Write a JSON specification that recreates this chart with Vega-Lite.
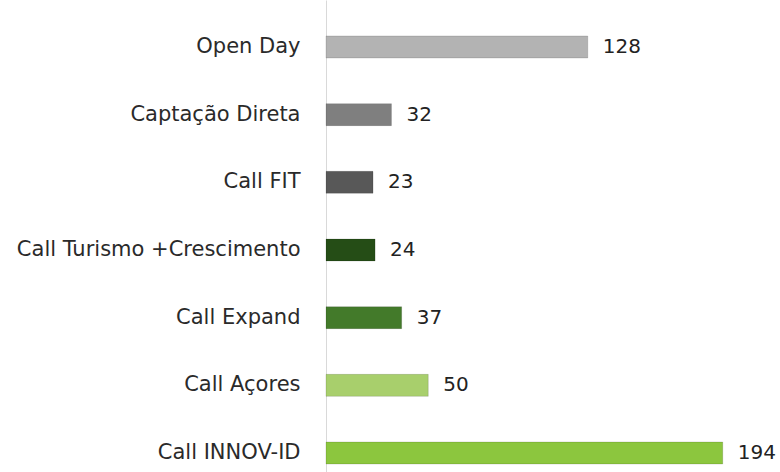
{
  "$schema": "https://vega.github.io/schema/vega-lite/v6.json",
  "autosize": "none",
  "padding": {"left": 326, "top": 0, "right": 0, "bottom": 0},
  "width": 454,
  "height": 472,
  "background": "white",
  "config": {"view": {"stroke": null}},
  "data": {
    "values": [
      {"categoria": "Open Day", "valor": 128, "cor": "#b3b3b3"},
      {"categoria": "Captação Direta", "valor": 32, "cor": "#7f7f7f"},
      {"categoria": "Call FIT", "valor": 23, "cor": "#585858"},
      {"categoria": "Call Turismo +Crescimento", "valor": 24, "cor": "#254d16"},
      {"categoria": "Call Expand", "valor": 37, "cor": "#437a2a"},
      {"categoria": "Call Açores", "valor": 50, "cor": "#a8cf6c"},
      {"categoria": "Call INNOV-ID", "valor": 194, "cor": "#8cc63e"}
    ]
  },
  "encoding": {
    "y": {
      "field": "categoria",
      "type": "nominal",
      "sort": null,
      "scale": {"paddingInner": 0.675, "paddingOuter": 0.325, "align": 0.818},
      "axis": {
        "title": null,
        "ticks": false,
        "labelPadding": 26,
        "labelFont": "DejaVu Sans",
        "labelFontSize": 21,
        "labelColor": "#2a2a2a",
        "labelLimit": 400,
        "domainColor": "#d9d9d9",
        "domainWidth": 1
      }
    },
    "x": {
      "field": "valor",
      "type": "quantitative",
      "scale": {"domain": [0, 222], "nice": false},
      "axis": null
    }
  },
  "layer": [
    {
      "mark": {"type": "bar", "stroke": "#00000022", "strokeWidth": 1},
      "encoding": {"color": {"field": "cor", "type": "nominal", "scale": null}}
    },
    {
      "mark": {"type": "text", "align": "left", "dx": 15, "font": "DejaVu Sans", "fontSize": 20, "fontWeight": "normal", "color": "#222222"},
      "encoding": {"text": {"field": "valor", "type": "quantitative"}}
    }
  ]
}
